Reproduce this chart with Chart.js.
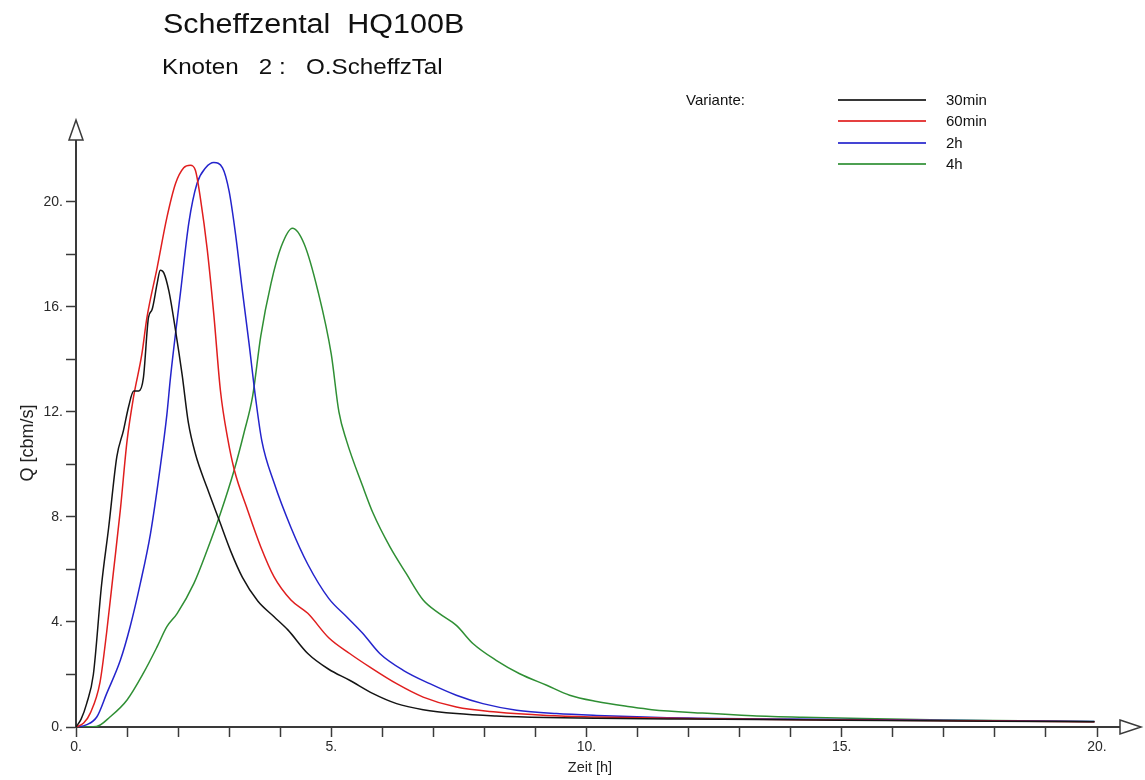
<!DOCTYPE html>
<html>
<head>
<meta charset="utf-8">
<title>Scheffzental HQ100B</title>
<script src="https://cdn.jsdelivr.net/npm/chart.js@4.4.1/dist/chart.umd.min.js"></script>
<style>
  html, body { margin: 0; padding: 0; background: #fff; }
  body { width: 1145px; height: 780px; position: relative; overflow: hidden; font-family: "Liberation Sans", Arial, sans-serif; color: #111; }
  #wrap { position: absolute; left: 0; top: 0; width: 1145px; height: 780px; }
  .head { position: absolute; white-space: pre; transform-origin: 0 0; line-height: 1; }
  #title { left: 163px; top: 11px; font-size: 27px; transform: scaleX(1.13); }
  #subtitle { left: 162px; top: 56px; font-size: 22px; transform: scaleX(1.1); }
  #legendHead { position: absolute; left: 686px; top: 91px; font-size: 15px; }
  .lg { position: absolute; left: 838px; width: 88px; height: 2px; opacity: 0.85; }
  .lgText { position: absolute; left: 946px; font-size: 15px; line-height: 1; }
  .axisTitle { position: absolute; white-space: pre; text-align: center; color: #222; line-height: 20px; height: 20px; width: 140px; }
  #yTitle { left: -43px; top: 433px; font-size: 18px; transform: rotate(-90deg); }
  #xTitle { left: 520px; top: 757px; font-size: 14.5px; }
</style>
</head>
<body>
<div id="wrap"><canvas id="hydroChart"></canvas></div>
<div id="title" class="head">Scheffzental  HQ100B</div>
<div id="subtitle" class="head">Knoten   2 :   O.ScheffzTal</div>
<div id="legendHead">Variante:</div>
<div id="legend"></div>
<div id="yTitle" class="axisTitle">Q [cbm/s]</div>
<div id="xTitle" class="axisTitle">Zeit [h]</div>
<script>
// Abflussganglinien je Regendauer: Zeit [h] / Abfluss Q [cbm/s]
const t30 = [0, 0.1, 0.21, 0.34, 0.5, 0.64, 0.8, 0.93, 1.03, 1.13, 1.23, 1.32, 1.42, 1.49, 1.59, 1.65, 1.72, 1.82, 1.95, 2.08, 2.2, 2.34, 2.57, 2.8, 3.03, 3.26, 3.56, 3.88, 4.15, 4.54, 4.95, 5.36, 5.82, 6.28, 6.8, 7.45, 8.23, 9.22, 10.2, 12, 15, 18, 19.95];
const q30 = [0, 0.3, 0.9, 2.0, 5.4, 7.6, 10.3, 11.3, 12.2, 12.8, 12.8, 13.3, 15.6, 15.9, 16.9, 17.4, 17.3, 16.6, 15.1, 13.4, 11.6, 10.4, 9.1, 7.9, 6.7, 5.7, 4.8, 4.2, 3.7, 2.8, 2.2, 1.78, 1.27, 0.89, 0.66, 0.51, 0.42, 0.36, 0.33, 0.3, 0.26, 0.22, 0.2];

const t60 = [0, 0.15, 0.28, 0.47, 0.6, 0.73, 0.87, 1.0, 1.13, 1.29, 1.39, 1.59, 1.78, 1.95, 2.11, 2.24, 2.34, 2.44, 2.57, 2.7, 2.83, 2.97, 3.1, 3.36, 3.62, 3.88, 4.21, 4.54, 4.95, 5.36, 5.75, 6.28, 6.8, 7.45, 8.23, 9.22, 10.2, 12, 15, 18, 19.95];
const q60 = [0, 0.15, 0.53, 1.7, 3.6, 5.85, 8.3, 10.9, 12.6, 14.2, 15.6, 17.5, 19.4, 20.7, 21.3, 21.4, 21.2, 20.1, 18.2, 15.7, 12.8, 11.0, 9.8, 8.27, 6.86, 5.72, 4.84, 4.33, 3.4, 2.8, 2.29, 1.65, 1.14, 0.76, 0.57, 0.44, 0.38, 0.32, 0.27, 0.23, 0.2];

const t2h = [0, 0.2, 0.41, 0.6, 0.87, 1.06, 1.26, 1.46, 1.65, 1.78, 1.85, 2.05, 2.21, 2.37, 2.54, 2.7, 2.87, 3.0, 3.13, 3.26, 3.39, 3.52, 3.64, 3.88, 4.21, 4.54, 4.95, 5.3, 5.62, 5.95, 6.41, 6.93, 7.45, 7.97, 8.63, 9.41, 10.2, 12, 15, 18, 19.95];
const q2h = [0, 0.08, 0.39, 1.27, 2.55, 3.82, 5.47, 7.38, 9.9, 11.9, 13.3, 16.6, 19.2, 20.7, 21.3, 21.5, 21.3, 20.4, 18.7, 16.6, 14.6, 12.5, 10.9, 9.3, 7.6, 6.2, 4.9, 4.2, 3.56, 2.8, 2.16, 1.65, 1.21, 0.89, 0.64, 0.51, 0.44, 0.34, 0.29, 0.24, 0.21];

const t4h = [0, 0.4, 0.67, 1.0, 1.32, 1.59, 1.78, 1.98, 2.31, 2.57, 2.83, 3.1, 3.29, 3.46, 3.62, 3.82, 4.02, 4.24, 4.47, 4.74, 5.0, 5.15, 5.3, 5.62, 5.82, 6.15, 6.47, 6.8, 7.12, 7.45, 7.78, 8.23, 8.69, 9.22, 9.67, 10.2, 10.85, 11.28, 12.27, 13.25, 14.23, 15.4, 17, 18.5, 19.95];
const q4h = [0, 0.02, 0.39, 1.03, 2.05, 3.06, 3.82, 4.32, 5.47, 6.74, 8.14, 9.8, 11.2, 12.6, 14.9, 16.9, 18.3, 19.0, 18.4, 16.6, 14.2, 12.0, 10.9, 9.15, 8.14, 6.86, 5.84, 4.84, 4.32, 3.87, 3.17, 2.54, 2.03, 1.59, 1.21, 0.97, 0.77, 0.66, 0.53, 0.43, 0.37, 0.32, 0.27, 0.24, 0.21];

const variants = ["30min", "60min", "2h", "4h"];
const variantColors = ["#141414", "#e01e1e", "#2424cc", "#2f8f34"];

const xTicks = [0, 1, 2, 3, 4, 5, 6, 7, 8, 9, 10, 11, 12, 13, 14, 15, 16, 17, 18, 19, 20];
const yTicks = [0, 2, 4, 6, 8, 10, 12, 14, 16, 18, 20];

(function () {
  const series = [[t30, q30], [t60, q60], [t2h, q2h], [t4h, q4h]];
  const axisColor = "#3a3a3a";
  const labelFont = { family: "'Liberation Sans', Arial, sans-serif", size: 14 };

  // legend rows on the right side of the header
  const legend = document.getElementById("legend");
  variants.forEach((name, i) => {
    const y = Math.round(99 + i * 21.3);
    const line = document.createElement("div");
    line.className = "lg";
    line.style.top = y + "px";
    line.style.background = variantColors[i];
    legend.appendChild(line);
    const txt = document.createElement("div");
    txt.className = "lgText";
    txt.style.top = (y - 7) + "px";
    txt.textContent = name;
    legend.appendChild(txt);
  });

  const datasets = series.map(([ts, qs], i) => ({
    label: variants[i],
    data: ts.map((t, k) => ({ x: t, y: qs[k] })),
    borderColor: variantColors[i],
    borderWidth: 1.5,
    pointRadius: 0,
    cubicInterpolationMode: "monotone",
    fill: false,
  }));

  // open arrowheads at the end of both axes
  const axisArrows = {
    id: "axisArrows",
    afterDraw(chart) {
      const { ctx, chartArea } = chart;
      ctx.save();
      ctx.strokeStyle = axisColor;
      ctx.fillStyle = "#fff";
      ctx.lineWidth = 1.5;
      ctx.beginPath();
      ctx.moveTo(chartArea.left - 7, chartArea.top);
      ctx.lineTo(chartArea.left, chartArea.top - 20);
      ctx.lineTo(chartArea.left + 7, chartArea.top);
      ctx.closePath();
      ctx.fill();
      ctx.stroke();
      ctx.beginPath();
      ctx.moveTo(chartArea.right, chartArea.bottom - 7);
      ctx.lineTo(chartArea.right + 21, chartArea.bottom);
      ctx.lineTo(chartArea.right, chartArea.bottom + 7);
      ctx.closePath();
      ctx.fill();
      ctx.stroke();
      ctx.restore();
    },
  };

  const canvas = document.getElementById("hydroChart");
  new Chart(canvas.getContext("2d"), {
    type: "line",
    data: { datasets },
    options: {
      responsive: true,
      maintainAspectRatio: false,
      animation: false,
      layout: { padding: { left: 0, top: 140, right: 25, bottom: 0 } },
      plugins: { legend: { display: false }, tooltip: { enabled: false } },
      scales: {
        x: {
          type: "linear",
          min: 0,
          max: 20.45,
          afterBuildTicks(scale) {
            scale.ticks = xTicks.map((v) => ({ value: v }));
          },
          afterFit(scale) {
            scale.height = 53;
          },
          ticks: {
            color: "#2a2a2a",
            font: labelFont,
            padding: 2,
            maxRotation: 0,
            autoSkip: false,
            callback: (v) => (v % 5 === 0 ? v + "." : ""),
          },
          grid: { drawOnChartArea: false, drawTicks: true, tickLength: 10, tickColor: axisColor, tickWidth: 1.5 },
          border: { color: axisColor, width: 2 },
        },
        y: {
          type: "linear",
          min: 0,
          max: 22.36,
          afterBuildTicks(scale) {
            scale.ticks = yTicks.map((v) => ({ value: v }));
          },
          afterFit(scale) {
            scale.width = 76;
          },
          ticks: {
            color: "#2a2a2a",
            font: labelFont,
            padding: 3,
            autoSkip: false,
            callback: (v) => (v % 4 === 0 ? v + "." : ""),
          },
          grid: { drawOnChartArea: false, drawTicks: true, tickLength: 10, tickColor: axisColor, tickWidth: 1.5 },
          border: { color: axisColor, width: 2 },
        },
      },
    },
    plugins: [axisArrows],
  });
})();
</script>
</body>
</html>
